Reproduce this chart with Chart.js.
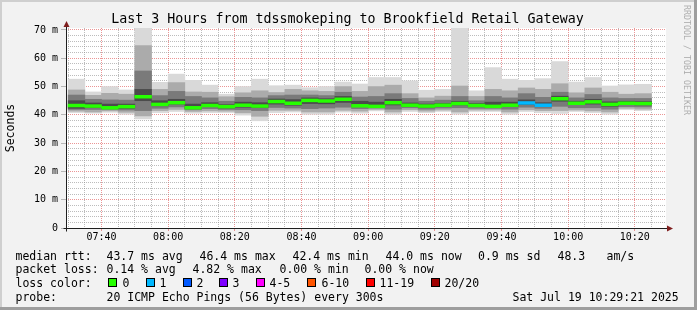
<!DOCTYPE html>
<html>
<head>
<meta charset="utf-8">
<title>SmokePing - Brookfield Retail Gateway</title>
<script src="https://cdn.jsdelivr.net/npm/chart.js@4.4.1/dist/chart.umd.min.js"></script>
<style>
    html, body { margin: 0; padding: 0; background: #f2f2f2; }
    #graph {
        position: relative; width: 697px; height: 310px; overflow: hidden;
        background: #f2f2f2; color: #000;
        font-family: 'DejaVu Sans Mono', monospace;
    }
    #graph canvas { position: absolute; left: 0; top: 0; }
    .t { position: absolute; white-space: pre; font-size: 11.5px; line-height: 14px; }
    .box { position: absolute; top: 278px; width: 9px; height: 9px; box-sizing: border-box; border: 1px solid #000; }
    .shade { position: absolute; }
</style>
</head>
<body>
<div id="graph">
    <canvas id="smokeChart" width="697" height="310"></canvas>

    <div class="shade" style="left:0;top:0;width:697px;height:2px;background:#cfcfcf"></div>
    <div class="shade" style="left:0;top:0;width:2px;height:310px;background:#cfcfcf"></div>
    <div class="shade" style="left:694px;top:0;width:3px;height:310px;background:#9e9e9e"></div>
    <div class="shade" style="left:0;top:307px;width:697px;height:3px;background:#9e9e9e"></div>

    <div class="t" style="left:0;width:695px;top:11.4px;text-align:center;font-size:13.3px;line-height:16px">Last 3 Hours from tdssmokeping to Brookfield Retail Gateway</div>
    <div class="t" style="left:-14.25px;top:120.5px;width:48.5px;text-align:center;transform:rotate(-90deg)">Seconds</div>
    <div class="t" style="left:631.9px;top:55px;width:110px;text-align:center;font-size:8.3px;line-height:10px;color:rgba(0,0,0,0.3);transform:rotate(90deg)">RRDTOOL / TOBI OETIKER</div>

    <!-- legend -->
    <div class="t" style="top:248.5px;left:15.5px">median rtt:</div>
    <div class="t" style="top:248.5px;left:106.5px">43.7 ms avg</div>
    <div class="t" style="top:248.5px;left:199.5px">46.4 ms max</div>
    <div class="t" style="top:248.5px;left:292.5px">42.4 ms min</div>
    <div class="t" style="top:248.5px;left:385.5px">44.0 ms now</div>
    <div class="t" style="top:248.5px;left:478px">0.9 ms sd</div>
    <div class="t" style="top:248.5px;left:557.5px">48.3</div>
    <div class="t" style="top:248.5px;left:606.5px">am/s</div>

    <div class="t" style="top:262.3px;left:15.5px">packet loss:</div>
    <div class="t" style="top:262.3px;left:106.5px">0.14 % avg</div>
    <div class="t" style="top:262.3px;left:192.5px">4.82 % max</div>
    <div class="t" style="top:262.3px;left:279.5px">0.00 % min</div>
    <div class="t" style="top:262.3px;left:364.5px">0.00 % now</div>

    <div class="t" style="top:275.7px;left:15.5px">loss color:</div>
    <div id="lossLegend"></div>

    <div class="t" style="top:289.7px;left:15.5px">probe:</div>
    <div class="t" style="top:289.7px;left:106.5px">20 ICMP Echo Pings (56 Bytes) every 300s</div>
    <div class="t" style="top:289.7px;left:512.5px">Sat Jul 19 10:29:21 2025</div>
</div>

<script>
// SmokePing "Last 3 Hours" graph, 5 minute steps, 20 pings per step
// values in ms

const slots = [
    '07:30', '07:35', '07:40', '07:45', '07:50', '07:55', '08:00', '08:05', '08:10', '08:15',
    '08:20', '08:25', '08:30', '08:35', '08:40', '08:45', '08:50', '08:55', '09:00', '09:05',
    '09:10', '09:15', '09:20', '09:25', '09:30', '09:35', '09:40', '09:45', '09:50', '09:55',
    '10:00', '10:05', '10:10', '10:15', '10:20'
];

const rttMin = [40.8, 40.6, 40.9, 40.2, 38.6, 40.8, 41.2, 40.6, 40.8, 40.8, 39.9, 37.9, 40.8, 41.0, 40.2, 40.2, 41.0, 40.6,
                41.4, 40.2, 41.2, 40.8, 41.2, 40.2, 41.2, 41.2, 40.2, 41.2, 40.8, 40.5, 41.2, 40.8, 40.2, 41.8, 41.5];
const rttP10 = [41.3, 41.0, 41.4, 40.9, 39.6, 41.5, 41.9, 41.2, 41.4, 41.3, 40.7, 39.5, 41.6, 41.6, 41.0, 41.0, 41.6, 41.3,
                41.9, 41.0, 41.8, 41.3, 41.7, 41.0, 41.7, 41.7, 41.0, 41.8, 41.5, 41.5, 41.7, 41.4, 41.0, 42.3, 42.0];
const rttP25 = [41.9, 41.9, 41.9, 41.7, 41.5, 42.3, 42.8, 41.8, 42.2, 41.9, 41.8, 41.5, 42.6, 42.4, 42.2, 42.4, 42.7, 42.2,
                42.4, 42.0, 42.5, 42.0, 42.4, 42.5, 42.3, 42.3, 42.0, 42.7, 42.3, 43.0, 42.5, 42.5, 42.0, 42.9, 42.8];
const rttP40 = [42.3, 42.6, 42.2, 42.3, 45.0, 43.2, 43.8, 42.2, 42.9, 42.4, 42.7, 42.6, 43.8, 43.4, 44.0, 43.9, 44.4, 42.9,
                42.8, 43.5, 43.0, 42.7, 43.0, 43.5, 42.9, 42.8, 42.9, 43.6, 43.0, 44.8, 43.6, 43.8, 43.0, 43.6, 43.5];
const rttMedian = [43.3, 43.1, 42.5, 42.9, 46.4, 43.7, 44.3, 42.5, 43.3, 42.9, 43.4, 43.1, 44.7, 44.1, 45.1, 44.9, 45.5, 43.2,
                   43.0, 44.3, 43.4, 43.1, 43.4, 44.0, 43.3, 43.0, 43.4, 44.2, 43.4, 45.7, 44.1, 44.6, 43.7, 44.1, 44.0];
const rttP60 = [45.0, 44.2, 43.8, 43.8, 49.0, 45.0, 45.5, 43.8, 44.3, 43.6, 44.5, 44.3, 45.6, 45.4, 46.0, 45.7, 46.5, 44.8,
                44.5, 45.5, 44.2, 43.8, 44.0, 44.8, 44.0, 44.5, 44.5, 45.3, 44.3, 46.6, 44.8, 45.5, 44.6, 44.8, 44.7];
const rttP75 = [47.0, 45.5, 45.3, 45.2, 55.5, 46.8, 48.3, 46.5, 46.0, 44.8, 46.2, 46.0, 46.8, 47.0, 47.0, 46.8, 48.0, 46.3,
                46.5, 47.5, 45.8, 44.8, 45.2, 46.5, 45.0, 46.5, 46.0, 47.5, 46.2, 48.0, 46.0, 47.2, 46.0, 45.8, 45.8];
const rttP90 = [48.8, 46.9, 47.6, 47.3, 64.5, 49.0, 51.4, 48.1, 48.0, 46.4, 47.8, 48.5, 47.9, 49.0, 48.5, 48.3, 50.0, 48.3,
                50.0, 50.5, 47.5, 46.0, 46.6, 50.2, 46.5, 49.0, 48.5, 49.5, 49.0, 51.0, 47.8, 49.5, 48.0, 47.3, 47.5];
const rttMax = [52.6, 48.1, 50.0, 48.8, 75.0, 51.5, 54.4, 52.2, 50.5, 47.3, 50.0, 52.6, 50.3, 50.5, 49.6, 50.0, 51.6, 50.9,
                53.2, 53.2, 52.0, 48.7, 49.0, 75.0, 48.5, 56.7, 52.6, 52.2, 52.8, 58.8, 51.6, 53.2, 50.2, 50.6, 50.8];
// lost pings out of 20, per step
const lossCount = [0, 0, 0, 0, 0, 0, 0, 0, 0, 0, 0, 0, 0, 0, 0, 0, 0, 0,
                   0, 0, 0, 0, 0, 0, 0, 0, 0, 1, 1, 0, 0, 0, 0, 0, 0];

const timeTicks = ['07:40', '08:00', '08:20', '08:40', '09:00', '09:20', '09:40', '10:00', '10:20'];
const msTicks = [0, 10, 20, 30, 40, 50, 60, 70];
const msLabels = ['0', '10 m', '20 m', '30 m', '40 m', '50 m', '60 m', '70 m'];

const lossLabels = ['0', '1', '2', '3', '4-5', '6-10', '11-19', '20/20'];
const lossColors = ['#26ff00', '#00b8ff', '#0059ff', '#7e00ff', '#ff00ff', '#ff5500', '#ff0000', '#a00000'];

// graph window 07:29:21 .. 10:29:21, minutes after 07:00
const xMin = 29.35;
const xMax = 209.35;
const yMax = 70.7;

const FONT = 'DejaVu Sans Mono';
const GRID = 'rgba(143,143,143,0.6)';
const MGRID = 'rgba(222,79,79,0.6)';

function toMin(s) {
    const [h, m] = s.split(':').map(Number);
    return (h - 7) * 60 + m;
}

function fmtTime(v) {
    const h = 7 + Math.floor(v / 60);
    const m = v % 60;
    return String(h).padStart(2, '0') + ':' + String(m).padStart(2, '0');
}

function band(lo, hi) {
    return slots.map((s, i) => ({ x: toMin(s) + 2.5, y: [lo[i], hi[i]] }));
}

function lossColor(n) {
    if (n === 0) return lossColors[0];
    if (n <= 3) return lossColors[n];
    if (n <= 5) return lossColors[4];
    if (n <= 10) return lossColors[5];
    if (n <= 19) return lossColors[6];
    return lossColors[7];
}

// loss colour legend boxes
const lossBoxX = [108, 146, 183, 219, 256, 307, 366, 431];
const lossTextX = [122.5, 159.5, 196.5, 232.5, 269.5, 321.5, 379.5, 444.5];
let legendHtml = '';
lossLabels.forEach((lbl, i) => {
    legendHtml += '<div class="box" style="left:' + lossBoxX[i] + 'px;background:' + lossColors[i] + '"></div>';
    legendHtml += '<div class="t" style="top:275.7px;left:' + lossTextX[i] + 'px">' + lbl + '</div>';
});
document.getElementById('lossLegend').innerHTML = legendHtml;

const medianHalf = 0.5;   // thickness of the median stripe, ms

// white canvas, axes and arrows like rrdtool
const rrdFrame = {
    id: 'rrdFrame',
    beforeDraw(chart) {
        const { ctx, chartArea: a } = chart;
        ctx.save();
        ctx.fillStyle = '#ffffff';
        ctx.fillRect(a.left, a.top, a.right - a.left, a.bottom - a.top);
        ctx.restore();
    },
    afterDraw(chart) {
        const { ctx } = chart;
        const x0 = Math.round(chart.scales.x.left) + 0.5;
        const y0 = Math.round(chart.scales.y.bottom) + 0.5;
        const xr = chart.scales.x.right;
        const yt = chart.scales.y.top;
        ctx.save();
        ctx.strokeStyle = '#1f1f1f';
        ctx.lineWidth = 1;
        ctx.beginPath();
        ctx.moveTo(x0 - 3, y0);
        ctx.lineTo(xr + 2, y0);
        ctx.moveTo(x0, y0 + 3);
        ctx.lineTo(x0, yt - 2);
        ctx.stroke();
        ctx.fillStyle = '#801f1f';
        ctx.beginPath();
        ctx.moveTo(x0, yt - 7);
        ctx.lineTo(x0 - 3, yt - 1);
        ctx.lineTo(x0 + 3, yt - 1);
        ctx.closePath();
        ctx.fill();
        ctx.beginPath();
        ctx.moveTo(xr + 7, y0);
        ctx.lineTo(xr + 1, y0 - 3);
        ctx.lineTo(xr + 1, y0 + 3);
        ctx.closePath();
        ctx.fill();
        ctx.restore();
    }
};

new Chart(document.getElementById('smokeChart'), {
    type: 'bar',
    data: {
        datasets: [
            {
                label: 'median',
                data: band(rttMedian.map(v => v - medianHalf), rttMedian.map(v => v + medianHalf)),
                backgroundColor: lossCount.map(lossColor)
            },
            { label: 'p40-p60', data: band(rttP40, rttP60), backgroundColor: '#4b4b4b' },
            { label: 'p25-p75', data: band(rttP25, rttP75), backgroundColor: '#7a7a7a' },
            { label: 'p10-p90', data: band(rttP10, rttP90), backgroundColor: '#ababab' },
            { label: 'min-max', data: band(rttMin, rttMax), backgroundColor: '#d9d9d9' }
        ]
    },
    options: {
        responsive: false,
        animation: false,
        devicePixelRatio: 1,
        layout: { padding: { left: 0, top: 28, right: 31, bottom: 0 } },
        plugins: {
            legend: { display: false },
            tooltip: { enabled: false }
        },
        datasets: {
            bar: {
                grouped: false,
                barPercentage: 1,
                categoryPercentage: 1,
                borderWidth: 0
            }
        },
        scales: {
            x: {
                type: 'linear',
                min: xMin,
                max: xMax,
                offset: false,
                z: 1,
                afterBuildTicks: function (scale) {
                    const ticks = [];
                    for (let v = 30; v <= 205; v += 5) ticks.push({ value: v });
                    scale.ticks = ticks;
                },
                afterFit: function (scale) { scale.height = 82; },
                grid: {
                    offset: false,
                    lineWidth: 1,
                    tickLength: 3,
                    color: ctx => timeTicks.includes(fmtTime(ctx.tick.value)) ? MGRID : GRID,
                    tickColor: ctx => timeTicks.includes(fmtTime(ctx.tick.value)) ? MGRID : 'transparent'
                },
                border: { display: false, dash: [1, 1] },
                ticks: {
                    autoSkip: false,
                    maxRotation: 0,
                    padding: 0,
                    color: '#000',
                    font: { family: FONT, size: 10 },
                    callback: function (value) {
                        const t = fmtTime(value);
                        return timeTicks.includes(t) ? t : '';
                    }
                }
            },
            y: {
                min: 0,
                max: yMax,
                z: 1,
                afterBuildTicks: function (scale) {
                    const ticks = [];
                    for (let v = 0; v <= 70; v += 2) ticks.push({ value: v });
                    scale.ticks = ticks;
                },
                afterFit: function (scale) { scale.width = 66; },
                grid: {
                    lineWidth: 1,
                    tickLength: 5,
                    color: ctx => msTicks.includes(ctx.tick.value) ? MGRID : GRID,
                    tickColor: ctx => msTicks.includes(ctx.tick.value) ? GRID : 'transparent'
                },
                border: { display: false, dash: [1, 1] },
                ticks: {
                    autoSkip: false,
                    padding: 3,
                    color: '#000',
                    font: { family: FONT, size: 10 },
                    callback: function (value) {
                        const i = msTicks.indexOf(value);
                        return i >= 0 ? msLabels[i] : '';
                    }
                }
            }
        }
    },
    plugins: [rrdFrame]
});
</script>
</body>
</html>
